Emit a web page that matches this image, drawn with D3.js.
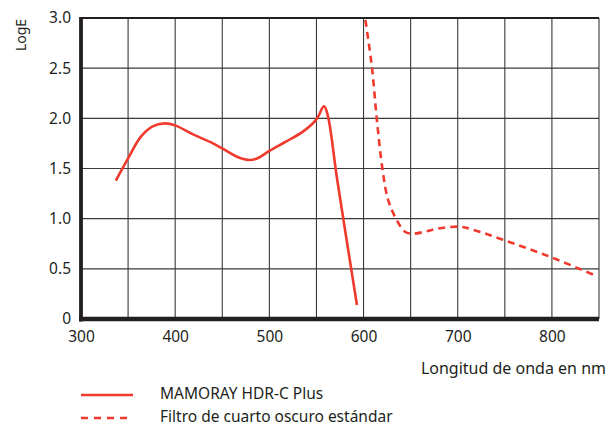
<!DOCTYPE html>
<html>
<head>
<meta charset="utf-8">
<script src="https://cdn.jsdelivr.net/npm/d3@7"></script>
<style>
  body { margin: 0; background: #fff; }
  svg text { font-family: "Noto Sans", "Open Sans", sans-serif; fill: #231f20; }
</style>
</head>
<body>
<svg id="chart" width="616" height="426"></svg>
<script>
// wavelength (nm) / LogE
const hdrNm = [337, 350, 363, 376, 389, 400, 419, 437, 450, 465, 478, 487, 500, 518, 536, 550, 558, 562, 572, 593];
const hdrLogE = [1.38, 1.60, 1.81, 1.92, 1.95, 1.93, 1.84, 1.765, 1.70, 1.62, 1.585, 1.60, 1.675, 1.77, 1.87, 1.99, 2.12, 2.03, 1.39, 0.14];

const darkNm = [602, 609, 614, 620, 626, 635, 644, 652, 665, 678, 702, 716, 748, 798, 847];
const darkLogE = [2.98, 2.50, 2.00, 1.50, 1.19, 0.99, 0.87, 0.85, 0.87, 0.90, 0.92, 0.89, 0.79, 0.62, 0.43];

const xTicks = [300, 400, 500, 600, 700, 800];
const xGrid = [350, 400, 450, 500, 550, 600, 650, 700, 750, 800, 850];
const yTicks = [0, 0.5, 1.0, 1.5, 2.0, 2.5, 3.0];
const legendLabels = ["MAMORAY HDR-C Plus", "Filtro de cuarto oscuro estándar"];

const red = "#ef3a2d";
const svg = d3.select("#chart");

const x = d3.scaleLinear().domain([300, 850]).range([81, 599]);
const y = d3.scaleLinear().domain([0, 3]).range([319, 18]);

// grid
svg.append("g")
  .selectAll("line")
  .data(xGrid)
  .join("line")
  .attr("x1", d => x(d)).attr("x2", d => x(d))
  .attr("y1", y(3)).attr("y2", y(0))
  .attr("stroke", "#3a3a3a")
  .attr("stroke-width", 1.1);

svg.append("g")
  .selectAll("line")
  .data(yTicks.filter(d => d > 0 && d < 3))
  .join("line")
  .attr("x1", x(300)).attr("x2", x(850))
  .attr("y1", d => y(d)).attr("y2", d => y(d))
  .attr("stroke", "#3a3a3a")
  .attr("stroke-width", 1.1);

// top border
svg.append("line")
  .attr("x1", x(300)).attr("x2", x(850))
  .attr("y1", y(3)).attr("y2", y(3))
  .attr("stroke", "#231f20")
  .attr("stroke-width", 1.8);

// axes (labels only, the heavy lines drawn separately)
const yAxis = d3.axisLeft(y)
  .tickValues(yTicks)
  .tickSize(0)
  .tickPadding(10)
  .tickFormat(d => d === 0 ? "0" : d.toFixed(1));

svg.append("g")
  .attr("transform", `translate(${x(300)},0)`)
  .call(yAxis)
  .call(g => g.select(".domain").remove())
  .call(g => g.selectAll("text").style("font-size", "15.5px"));

const xAxis = d3.axisBottom(x)
  .tickValues(xTicks)
  .tickSize(0)
  .tickPadding(12);

svg.append("g")
  .attr("transform", `translate(0,${y(0)})`)
  .call(xAxis)
  .call(g => g.select(".domain").remove())
  .call(g => g.selectAll("text").style("font-size", "15.5px"));

svg.append("line")
  .attr("x1", x(300)).attr("x2", x(300))
  .attr("y1", y(3) - 1).attr("y2", y(0) + 2.5)
  .attr("stroke", "#231f20")
  .attr("stroke-width", 3.8);

svg.append("line")
  .attr("x1", x(300) - 1.9).attr("x2", x(850))
  .attr("y1", y(0)).attr("y2", y(0))
  .attr("stroke", "#231f20")
  .attr("stroke-width", 4.5);

// axis titles
svg.append("text")
  .attr("transform", `translate(26,35) rotate(-90)`)
  .attr("text-anchor", "middle")
  .style("font-size", "14px")
  .text("LogE");

svg.append("text")
  .attr("x", 606)
  .attr("y", 374)
  .attr("text-anchor", "end")
  .style("font-size", "16px")
  .text("Longitud de onda en nm");

// curves
const line = d3.line()
  .x(d => x(d[0]))
  .y(d => y(d[1]))
  .curve(d3.curveCatmullRom.alpha(0.5));

svg.append("path")
  .datum(d3.zip(hdrNm, hdrLogE))
  .attr("d", line)
  .attr("fill", "none")
  .attr("stroke", red)
  .attr("stroke-width", 2.6);

svg.append("path")
  .datum(d3.zip(darkNm, darkLogE))
  .attr("d", line)
  .attr("fill", "none")
  .attr("stroke", red)
  .attr("stroke-width", 2.6)
  .attr("stroke-dasharray", "7,5");

// legend
const legend = svg.append("g");
legendLabels.forEach((label, i) => {
  const ly = 395 + i * 23;
  legend.append("line")
    .attr("x1", 81).attr("x2", 133)
    .attr("y1", ly).attr("y2", ly)
    .attr("stroke", red)
    .attr("stroke-width", 2.6)
    .attr("stroke-dasharray", i === 1 ? "7,6" : null);
  legend.append("text")
    .attr("x", 160)
    .attr("y", ly + 4)
    .style("font-size", "15.5px")
    .text(label);
});
</script>
</body>
</html>
